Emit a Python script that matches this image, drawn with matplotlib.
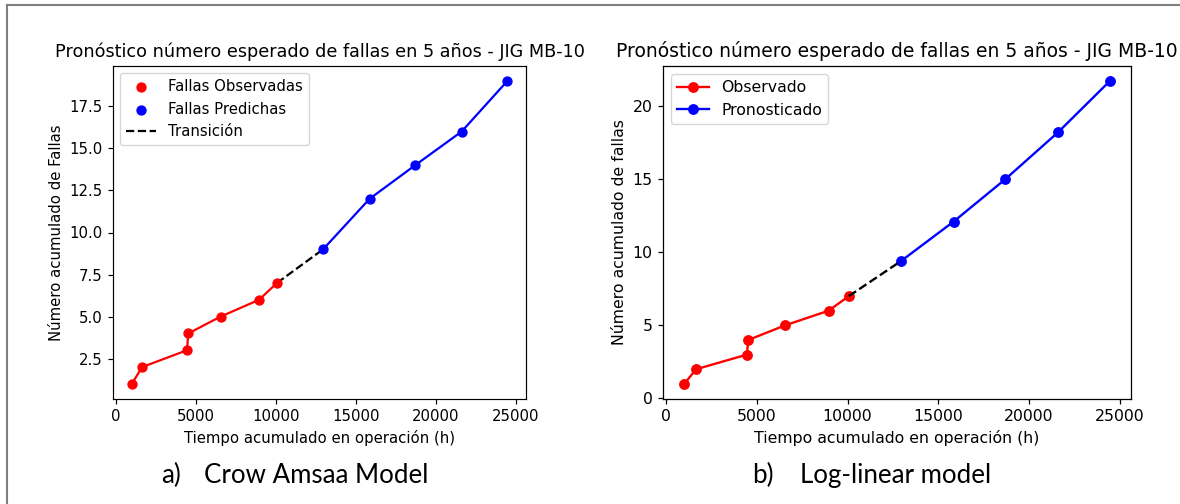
import matplotlib
matplotlib.use("Agg")
import matplotlib.pyplot as plt
from matplotlib.lines import Line2D

# ---- data ----
t_obs = [1000, 1650, 4450, 4530, 6550, 8950, 10070]
n_obs = [1, 2, 3, 4, 5, 6, 7]
t_pred = [12950, 15850, 18700, 21600, 24450]
n_pred_crow = [9, 12, 14, 16, 19]
n_pred_loglin = [9.4, 12.1, 15.0, 18.2, 21.7]

title = "Pronóstico número esperado de fallas en 5 años - JIG MB-10"
xlabel = "Tiempo acumulado en operación (h)"
ylabel_a = "Número acumulado de Fallas"
ylabel_b = "Número acumulado de fallas"
cap_a = ("a)", "Crow Amsaa Model")
cap_b = ("b)", "Log-linear model")

W, H = 1180, 504
S1 = 1.07   # scale of the left embedded screenshot
S2 = 1.13   # scale of the right embedded screenshot
fig = plt.figure(figsize=(W / 100, H / 100), dpi=100)

def fx(px):
    return px / W

def fy(py):
    return 1 - py / H

# ---- panel a ----
S = S1
ax1 = fig.add_axes([fx(113), fy(399), fx(526) - fx(113), fy(66) - fy(399)])
ax1.plot(t_obs, n_obs, color="red", lw=1.5 * S)
ax1.plot(t_pred, n_pred_crow, color="blue", lw=1.5 * S)
ax1.scatter(t_obs, n_obs, color="red", s=(6 * S) ** 2, zorder=3, label="Fallas Observadas")
ax1.scatter(t_pred, n_pred_crow, color="blue", s=(6 * S) ** 2, zorder=3, label="Fallas Predichas")
ax1.plot([t_obs[-1], t_pred[0]], [n_obs[-1], n_pred_crow[0]], "k--", lw=1.5 * S, label="Transición")
ax1.set_title(title, fontsize=12.7, pad=6 * S)
ax1.set_xlabel(xlabel, fontsize=10 * S)
ax1.set_ylabel(ylabel_a, fontsize=10 * S)
ax1.tick_params(labelsize=10 * S, width=0.8 * S, length=3.5 * S)
ax1.legend(loc="upper left", fontsize=10 * S)
for sp in ax1.spines.values():
    sp.set_linewidth(0.8 * S)

# ---- panel b ----
S = S2
ax2 = fig.add_axes([fx(663), fy(399), fx(1131) - fx(663), fy(66) - fy(399)])
ax2.plot(t_obs, n_obs, "o-", color="red", lw=1.5 * S, ms=6 * S, label="Observado")
ax2.plot(t_pred, n_pred_loglin, "o-", color="blue", lw=1.5 * S, ms=6 * S, label="Pronosticado")
ax2.plot([t_obs[-1], t_pred[0]], [n_obs[-1], n_pred_loglin[0]], "k--", lw=1.5 * S)
ax2.set_title(title, fontsize=13.5, pad=6 * S)
ax2.set_xlabel(xlabel, fontsize=10 * S)
ax2.set_ylabel(ylabel_b, fontsize=10 * S)
ax2.tick_params(labelsize=10 * S, width=0.8 * S, length=3.5 * S)
ax2.legend(loc="upper left", fontsize=10 * S)
for sp in ax2.spines.values():
    sp.set_linewidth(0.8 * S)

# ---- captions ----
cap_font = ["Lato", "DejaVu Sans"]
CF = 18.6
fig.text(fx(161), fy(483), cap_a[0], fontsize=CF, family=cap_font, va="baseline")
fig.text(fx(204), fy(483), cap_a[1], fontsize=CF, family=cap_font, va="baseline")
fig.text(fx(752), fy(483), cap_b[0], fontsize=CF, family=cap_font, va="baseline")
fig.text(fx(800), fy(483), cap_b[1], fontsize=CF, family=cap_font, va="baseline")

# ---- border ----
fig.add_artist(Line2D([fx(7), fx(7)], [fy(5), 0], color="#808080", lw=1.5))
fig.add_artist(Line2D([fx(7), 1], [fy(5), fy(5)], color="#808080", lw=1.5))

fig.savefig("out.png", dpi=100)
